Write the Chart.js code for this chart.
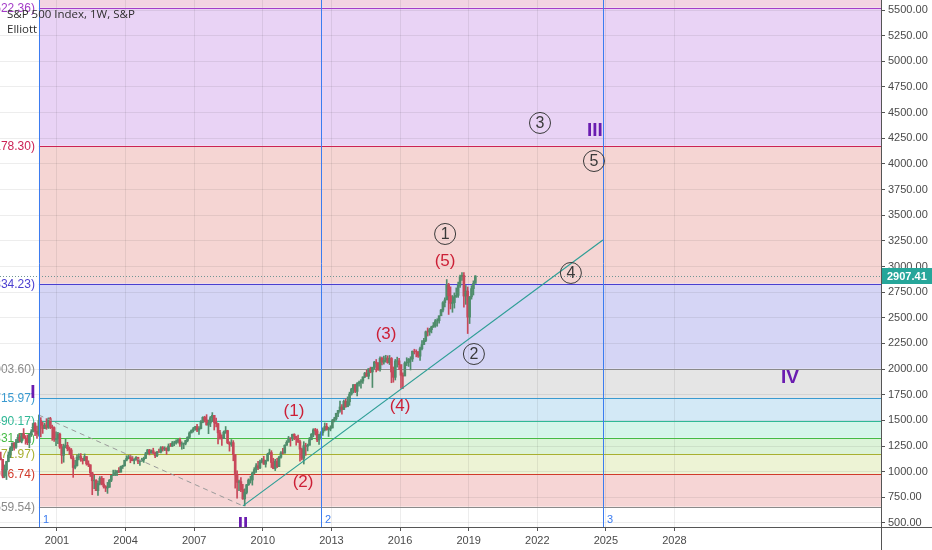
<!DOCTYPE html>
<html>
<head>
<meta charset="utf-8">
<title>S&amp;P 500 Index, 1W, S&amp;P - Elliott</title>
<script src="https://cdn.jsdelivr.net/npm/chart.js@4.4.1/dist/chart.umd.min.js"></script>
<style>
  html, body { margin: 0; padding: 0; background: #fff; }
  #wrap { position: relative; width: 932px; height: 550px; }
  #title { position: absolute; left: 7px; top: 6px; font: 11.5px "Open Sans", sans-serif; color: #2e2e2e; line-height: 15px; pointer-events: none; }
</style>
</head>
<body>
<div id="wrap">
  <canvas id="spxChart" width="932" height="550"></canvas>
  <div id="title">S&amp;P 500 Index, 1W, S&amp;P<br>Elliott</div>
</div>
<script>
// --- Monthly S&P 500 prices, Jul 1998 .. Apr 2019 ---
const startYear = 1998, startMonth = 7;
const firstOpen = 1133.84;

const closes = [
  1120.67, 957.28, 1017.01, 1098.67, 1163.63, 1229.23,
  1279.64, 1238.33, 1286.37, 1335.18, 1301.84, 1372.71, 1328.72, 1320.41, 1282.71, 1362.93, 1388.91, 1469.25,
  1394.46, 1366.42, 1498.58, 1452.43, 1420.60, 1454.60, 1430.83, 1517.68, 1436.51, 1429.40, 1314.95, 1320.28,
  1366.01, 1239.94, 1160.33, 1249.46, 1255.82, 1224.42, 1211.23, 1133.58, 1040.94, 1059.78, 1139.45, 1148.08,
  1130.20, 1106.73, 1147.39, 1076.92, 1067.14, 989.82, 911.62, 916.07, 815.28, 885.76, 936.31, 879.82,
  855.70, 841.15, 848.18, 916.92, 963.59, 974.50, 990.31, 1008.01, 995.97, 1050.71, 1058.20, 1111.92,
  1131.13, 1144.94, 1126.21, 1107.30, 1120.68, 1140.84, 1101.72, 1104.24, 1114.58, 1130.20, 1173.82, 1211.92,
  1181.27, 1203.60, 1180.59, 1156.85, 1191.50, 1191.33, 1234.18, 1220.33, 1228.81, 1207.01, 1249.48, 1248.29,
  1280.08, 1280.66, 1294.83, 1310.61, 1270.09, 1270.20, 1276.66, 1303.82, 1335.85, 1377.94, 1400.63, 1418.30,
  1438.24, 1406.82, 1420.86, 1482.37, 1530.62, 1503.35, 1455.27, 1473.99, 1526.75, 1549.38, 1481.14, 1468.36,
  1378.55, 1330.63, 1322.70, 1385.59, 1400.38, 1280.00, 1267.38, 1282.83, 1166.36, 968.75, 896.24, 903.25,
  825.88, 735.09, 797.87, 872.81, 919.14, 919.32, 987.48, 1020.62, 1057.08, 1036.19, 1095.63, 1115.10,
  1073.87, 1104.49, 1169.43, 1186.69, 1089.41, 1030.71, 1101.60, 1049.33, 1141.20, 1183.26, 1180.55, 1257.64,
  1286.12, 1327.22, 1325.83, 1363.61, 1345.20, 1320.64, 1292.28, 1218.89, 1131.42, 1253.30, 1246.96, 1257.60,
  1312.41, 1365.68, 1408.47, 1397.91, 1310.33, 1362.16, 1379.32, 1406.58, 1440.67, 1412.16, 1416.18, 1426.19,
  1498.11, 1514.68, 1569.19, 1597.57, 1630.74, 1606.28, 1685.73, 1632.97, 1681.55, 1756.54, 1805.81, 1848.36,
  1782.59, 1859.45, 1872.34, 1883.95, 1923.57, 1960.23, 1930.67, 2003.37, 1972.29, 2018.05, 2067.56, 2058.90,
  1994.99, 2104.50, 2067.89, 2085.51, 2107.39, 2063.11, 2103.84, 1972.18, 1920.03, 2079.36, 2080.41, 2043.94,
  1940.24, 1932.23, 2059.74, 2065.30, 2096.95, 2098.86, 2173.60, 2170.95, 2168.27, 2126.15, 2198.81, 2238.83,
  2278.87, 2363.64, 2362.72, 2384.20, 2411.80, 2423.41, 2470.30, 2471.65, 2519.36, 2575.26, 2647.58, 2673.61,
  2823.81, 2713.83, 2640.87, 2648.05, 2705.27, 2718.37, 2816.29, 2901.52, 2913.98, 2711.74, 2760.17, 2506.85,
  2704.10, 2784.49, 2834.40, 2907.41
];

const highs = [
  1190.58, 1121.00, 1066.11, 1102.00, 1192.97, 1244.93,
  1280.00, 1283.00, 1316.00, 1362.00, 1368.00, 1372.90, 1420.33, 1352.00, 1358.00, 1373.00, 1410.00, 1473.00,
  1478.00, 1444.00, 1552.87, 1527.00, 1481.00, 1474.00, 1517.00, 1525.00, 1530.00, 1454.00, 1438.00, 1389.00,
  1383.00, 1376.00, 1267.00, 1269.00, 1315.90, 1286.60, 1239.80, 1226.30, 1155.40, 1110.60, 1163.40, 1173.00,
  1176.60, 1130.20, 1173.00, 1147.80, 1106.60, 1067.70, 994.50, 965.00, 924.00, 907.40, 951.60, 954.30,
  935.00, 864.60, 895.90, 924.20, 965.40, 1015.30, 1015.40, 1011.00, 1040.00, 1053.80, 1063.70, 1112.00,
  1155.40, 1159.00, 1163.20, 1150.60, 1127.70, 1146.30, 1140.80, 1108.60, 1131.50, 1142.00, 1188.50, 1217.30,
  1217.80, 1212.40, 1229.10, 1191.90, 1199.60, 1219.60, 1245.20, 1245.90, 1243.10, 1233.30, 1270.60, 1275.80,
  1294.90, 1297.60, 1310.90, 1318.20, 1326.70, 1290.70, 1280.40, 1306.70, 1340.30, 1389.40, 1407.90, 1431.80,
  1441.60, 1461.60, 1438.90, 1498.00, 1535.60, 1540.60, 1555.90, 1503.90, 1538.70, 1576.10, 1545.80, 1523.60,
  1471.80, 1404.00, 1359.70, 1397.00, 1440.20, 1404.00, 1292.20, 1313.20, 1303.00, 1167.00, 1007.50, 918.90,
  943.85, 877.00, 832.98, 876.60, 930.20, 956.20, 996.70, 1039.50, 1080.20, 1101.40, 1113.70, 1130.40,
  1150.40, 1112.40, 1180.20, 1219.80, 1205.10, 1131.20, 1120.95, 1129.20, 1148.90, 1196.10, 1227.10, 1262.60,
  1302.70, 1344.10, 1332.30, 1366.40, 1370.60, 1346.00, 1356.50, 1307.40, 1230.70, 1292.70, 1277.55, 1269.40,
  1333.50, 1371.90, 1419.20, 1422.40, 1415.30, 1363.50, 1391.70, 1426.70, 1474.50, 1470.96, 1434.30, 1448.00,
  1509.90, 1530.90, 1570.30, 1597.60, 1687.20, 1654.20, 1698.80, 1709.70, 1729.90, 1775.20, 1813.60, 1849.40,
  1850.80, 1867.90, 1883.97, 1897.30, 1924.00, 1968.20, 1991.40, 2005.00, 2019.30, 2018.20, 2075.80, 2093.55,
  2064.40, 2119.60, 2117.50, 2125.90, 2134.70, 2129.90, 2132.80, 2112.70, 2020.90, 2094.30, 2116.50, 2104.30,
  2038.20, 1962.96, 2072.20, 2111.00, 2103.50, 2120.60, 2177.10, 2193.80, 2187.90, 2169.60, 2214.10, 2277.50,
  2301.00, 2371.50, 2400.98, 2398.20, 2418.70, 2454.00, 2484.00, 2491.00, 2519.40, 2582.98, 2657.70, 2694.97,
  2872.87, 2835.96, 2801.90, 2717.50, 2742.20, 2791.50, 2848.00, 2916.50, 2940.90, 2939.90, 2815.15, 2800.20,
  2708.00, 2813.50, 2860.30, 2910.50
];

const lows = [
  1114.30, 939.98, 943.00, 923.32, 1096.00, 1136.89,
  1205.00, 1211.00, 1226.00, 1282.00, 1287.00, 1281.00, 1325.00, 1268.00, 1263.00, 1233.70, 1343.00, 1387.00,
  1350.00, 1325.00, 1346.00, 1339.40, 1373.00, 1420.00, 1413.00, 1421.00, 1419.00, 1305.80, 1294.00, 1254.00,
  1274.00, 1228.00, 1081.00, 1091.99, 1232.00, 1203.00, 1165.50, 1124.90, 944.75, 1026.80, 1054.30, 1114.90,
  1101.00, 1074.40, 1106.70, 1063.50, 1048.96, 952.90, 775.70, 833.40, 815.30, 768.63, 872.00, 871.80,
  840.30, 806.30, 788.90, 847.90, 902.80, 963.60, 962.00, 960.80, 990.40, 995.90, 1031.20, 1053.40,
  1105.10, 1124.40, 1087.20, 1105.90, 1076.30, 1113.30, 1078.80, 1060.70, 1101.30, 1090.20, 1127.60, 1173.80,
  1163.80, 1180.10, 1176.90, 1136.20, 1146.20, 1188.30, 1183.60, 1201.10, 1205.40, 1168.20, 1201.10, 1246.60,
  1245.70, 1253.60, 1268.40, 1280.70, 1245.30, 1219.30, 1224.50, 1261.30, 1290.90, 1327.10, 1377.80, 1385.90,
  1403.97, 1389.40, 1363.98, 1416.40, 1476.70, 1484.20, 1454.30, 1370.60, 1439.30, 1489.60, 1406.10, 1435.70,
  1270.05, 1316.80, 1256.98, 1324.40, 1373.10, 1272.00, 1200.40, 1247.50, 1106.40, 839.80, 741.00, 815.70,
  804.30, 730.90, 666.79, 783.30, 866.10, 888.90, 869.30, 978.50, 991.97, 1019.95, 1029.40, 1085.90,
  1071.60, 1044.50, 1105.40, 1170.70, 1040.80, 1028.30, 1010.90, 1039.70, 1048.10, 1131.90, 1173.00, 1181.30,
  1257.60, 1289.10, 1249.00, 1302.60, 1311.80, 1258.10, 1282.90, 1101.50, 1114.20, 1074.80, 1158.70, 1202.40,
  1258.90, 1310.90, 1340.00, 1357.40, 1291.98, 1266.70, 1325.40, 1354.70, 1396.60, 1403.30, 1343.35, 1398.10,
  1426.20, 1485.00, 1501.50, 1536.00, 1581.30, 1560.30, 1604.60, 1627.50, 1633.40, 1646.50, 1746.20, 1767.99,
  1770.50, 1737.90, 1834.40, 1814.40, 1859.80, 1915.98, 1930.70, 1904.80, 1964.00, 1820.70, 2001.00, 1972.60,
  1988.10, 1980.90, 2039.70, 2048.40, 2067.90, 2056.30, 2044.00, 1867.00, 1871.90, 1893.70, 2019.40, 1993.30,
  1812.30, 1810.10, 1937.10, 2033.80, 2025.90, 1991.70, 2074.00, 2147.60, 2119.10, 2114.70, 2083.80, 2187.40,
  2245.10, 2267.20, 2322.30, 2328.95, 2352.70, 2405.70, 2407.70, 2417.40, 2446.60, 2520.40, 2557.45, 2605.50,
  2682.40, 2532.70, 2585.90, 2553.80, 2594.60, 2698.70, 2698.95, 2795.10, 2864.10, 2603.50, 2631.10, 2346.60,
  2443.96, 2681.80, 2722.30, 2848.60
];

// --- Axes ---
const yearTicks = [2001, 2004, 2007, 2010, 2013, 2016, 2019, 2022, 2025, 2028];
const priceTicks = [500, 750, 1000, 1250, 1500, 1750, 2000, 2250, 2500, 2750, 3000,
  3250, 3500, 3750, 4000, 4250, 4500, 4750, 5000, 5250, 5500];
const xMin = 1998.508, xMax = 2037.03;
const yMin = 461, yMax = 5597.5;

// --- Fibonacci levels ---
const fibStart = 2000.21;
const fibRatios = [0, 0.236, 0.382, 0.5, 0.618, 0.786, 1, 1.618, 2.618, 3.618];
const fibPrices = [659.54, 976.74, 1171.97, 1331.57, 1490.17, 1715.97, 2003.60, 2834.23, 4178.30, 5522.36];
const fibColors = ['#8a8a8a', '#d03a2a', '#a8b030', '#44bb44', '#30b896', '#3a9ad0',
  '#8a8a8a', '#4b3fd0', '#cc2255', '#a43cc8'];
const fibFills = [null, '#f6d5d5', '#edf3d5', '#dcf3d8', '#d5f5ea', '#d3e9f6',
  '#e5e5e5', '#d5d5f5', '#f5d5d3', '#e9d3f5'];
const fibTopFill = '#f2d3e2';

// --- Drawings ---
const cycleYears = [2000.21, 2012.54, 2024.87];
const cycleLabels = ['1', '2', '3'];
const trendX = [2009.13, 2024.87], trendY = [666.79, 3258];
const dashX = [2000.2, 2009.13], dashY = [1552.87, 666.79];
const lastPrice = 2907.41;

const circleLabels = ['1', '2', '3', '4', '5'];
const circleX = [2017.97, 2019.23, 2022.12, 2023.47, 2024.48];
const circleY = [3317, 2147, 4399, 2937, 4028];
const minorLabels = ['(1)', '(2)', '(3)', '(4)', '(5)'];
const minorX = [2011.36, 2011.76, 2015.39, 2016.0, 2017.97];
const minorY = [1592, 900, 2342, 1640, 3054];
const majorLabels = ['I', 'II', 'III', 'IV'];
const majorX = [1999.95, 2009.13, 2024.52, 2033.05];
const majorY = [1767, 480, 4321, 1913];

const FONT = '"Liberation Sans", Arial, sans-serif';
const CYCLE_BLUE = '#3b7cf0';

document.addEventListener('DOMContentLoaded', function() {

    const monthX = closes.map((c, i) => startYear + (startMonth - 1 + i) / 12 + 1 / 24);
    const opens = closes.map((c, i) => i === 0 ? firstOpen : closes[i - 1]);
    const barColors = closes.map((c, i) => c >= opens[i] ? '#4f8d6c' : '#c8485a');

    // --- draws fib bands, levels, cycle lines and wave labels ---
    const overlays = {
        id: 'overlays',
        beforeDraw(chart) {
            const { ctx, chartArea: a, scales: { x, y } } = chart;
            const x0 = x.getPixelForValue(fibStart);
            ctx.save();
            ctx.beginPath();
            ctx.rect(a.left, a.top, a.width, a.height);
            ctx.clip();
            const yTop = y.getPixelForValue(fibPrices[fibPrices.length - 1]);
            ctx.fillStyle = fibTopFill;
            ctx.fillRect(x0, a.top, a.right - x0, yTop - a.top);
            for (let i = 1; i < fibPrices.length; i++) {
                const y1 = y.getPixelForValue(fibPrices[i]);
                const y0 = y.getPixelForValue(fibPrices[i - 1]);
                ctx.fillStyle = fibFills[i];
                ctx.fillRect(x0, y1, a.right - x0, y0 - y1);
            }
            ctx.restore();
        },
        beforeDatasetsDraw(chart) {
            const { ctx, chartArea: a, scales: { x, y } } = chart;
            const x0 = x.getPixelForValue(fibStart);
            ctx.save();
            // level lines + labels
            ctx.font = '12px ' + FONT;
            ctx.textAlign = 'right';
            ctx.textBaseline = 'middle';
            fibPrices.forEach((p, i) => {
                const py = Math.round(y.getPixelForValue(p)) + 0.5;
                ctx.strokeStyle = fibColors[i];
                ctx.lineWidth = 1;
                ctx.beginPath();
                ctx.moveTo(x0, py);
                ctx.lineTo(a.right, py);
                ctx.stroke();
                ctx.fillStyle = fibColors[i];
                ctx.fillText(fibRatios[i] + '(' + p.toFixed(2) + ')', x0 - 4, py);
            });
            // last price dotted line
            const lp = Math.round(y.getPixelForValue(lastPrice)) + 0.5;
            ctx.strokeStyle = '#6f9595';
            ctx.setLineDash([1, 2]);
            ctx.beginPath();
            ctx.moveTo(a.left, lp);
            ctx.lineTo(a.right, lp);
            ctx.stroke();
            ctx.restore();
        },
        afterDatasetsDraw(chart) {
            const { ctx, chartArea: a, scales: { x, y } } = chart;
            ctx.save();
            ctx.beginPath();
            ctx.rect(a.left, a.top, a.width, a.height);
            ctx.clip();

            // cycle vertical lines
            ctx.strokeStyle = CYCLE_BLUE;
            ctx.lineWidth = 1;
            cycleYears.forEach(yr => {
                const px = Math.round(x.getPixelForValue(yr)) + 0.5;
                ctx.beginPath();
                ctx.moveTo(px, a.top);
                ctx.lineTo(px, a.bottom);
                ctx.stroke();
            });

            ctx.textAlign = 'center';
            ctx.textBaseline = 'middle';

            // circled waves
            circleLabels.forEach((t, i) => {
                const px = x.getPixelForValue(circleX[i]);
                const py = y.getPixelForValue(circleY[i]);
                ctx.strokeStyle = '#3a3a3a';
                ctx.lineWidth = 1;
                ctx.beginPath();
                ctx.arc(px, py, 10.5, 0, Math.PI * 2);
                ctx.stroke();
                ctx.fillStyle = '#3a3a3a';
                ctx.font = '16px ' + FONT;
                ctx.fillText(t, px, py + 1);
            });
            // minor waves
            ctx.fillStyle = '#cc1f36';
            ctx.font = '17px ' + FONT;
            minorLabels.forEach((t, i) => {
                ctx.fillText(t, x.getPixelForValue(minorX[i]), y.getPixelForValue(minorY[i]));
            });
            // major waves
            ctx.fillStyle = '#6a1cb0';
            ctx.font = 'bold 19px ' + FONT;
            majorLabels.forEach((t, i) => {
                ctx.fillText(t, x.getPixelForValue(majorX[i]), y.getPixelForValue(majorY[i]));
            });
            // cycle numbers
            ctx.fillStyle = CYCLE_BLUE;
            ctx.font = '11px ' + FONT;
            ctx.textAlign = 'left';
            cycleYears.forEach((yr, i) => {
                ctx.fillText(cycleLabels[i], x.getPixelForValue(yr) + 4, a.bottom - 7);
            });
            ctx.restore();
        },
        afterDraw(chart) {
            const { ctx, chartArea: a, scales: { y } } = chart;
            ctx.save();
            // axis frame lines
            ctx.strokeStyle = '#555';
            ctx.lineWidth = 1;
            ctx.beginPath();
            ctx.moveTo(a.right + 0.5, a.top);
            ctx.lineTo(a.right + 0.5, chart.height);
            ctx.moveTo(a.left, a.bottom + 0.5);
            ctx.lineTo(chart.width, a.bottom + 0.5);
            ctx.stroke();
            // last price tag
            const lp = y.getPixelForValue(lastPrice);
            ctx.fillStyle = '#26a69a';
            ctx.fillRect(a.right + 1, lp - 8, chart.width - a.right - 1, 16);
            ctx.fillStyle = '#ffffff';
            ctx.font = 'bold 11px ' + FONT;
            ctx.textAlign = 'left';
            ctx.textBaseline = 'middle';
            ctx.fillText(lastPrice.toFixed(2), a.right + 6, lp + 0.5);
            ctx.restore();
        }
    };

    const ctx = document.getElementById('spxChart').getContext('2d');
    new Chart(ctx, {
        type: 'bar',
        data: {
            datasets: [
                {
                    label: 'Range',
                    data: monthX.map((mx, i) => ({ x: mx, y: [lows[i], highs[i]] })),
                    backgroundColor: barColors,
                    barThickness: 1,
                    grouped: false,
                    order: 3
                },
                {
                    label: 'Body',
                    data: monthX.map((mx, i) => ({ x: mx, y: [opens[i], closes[i]] })),
                    backgroundColor: barColors,
                    barThickness: 2,
                    grouped: false,
                    order: 2
                },
                {
                    type: 'line',
                    label: 'Trend',
                    data: trendX.map((tx, i) => ({ x: tx, y: trendY[i] })),
                    borderColor: '#2e9e96',
                    borderWidth: 1.2,
                    pointRadius: 0,
                    order: 1
                },
                {
                    type: 'line',
                    label: 'Projection',
                    data: dashX.map((dx, i) => ({ x: dx, y: dashY[i] })),
                    borderColor: '#9a9a9a',
                    borderWidth: 1,
                    borderDash: [5, 4],
                    pointRadius: 0,
                    order: 1
                }
            ]
        },
        options: {
            responsive: false,
            animation: false,
            layout: { padding: 0 },
            plugins: { legend: { display: false }, tooltip: { enabled: false } },
            scales: {
                x: {
                    type: 'linear',
                    min: xMin,
                    max: xMax,
                    offset: false,
                    grid: { offset: false, color: 'rgba(0,0,0,0.07)', tickLength: 4, tickColor: '#555' },
                    border: { display: false },
                    ticks: {
                        color: '#4a4a4a', font: { size: 11, family: FONT }, padding: 3,
                        maxRotation: 0, autoSkip: false, callback: v => String(v)
                    },
                    afterBuildTicks: s => { s.ticks = yearTicks.map(v => ({ value: v })); },
                    afterFit: s => { s.height = 23; s.paddingLeft = 0; s.paddingRight = 0; }
                },
                y: {
                    type: 'linear',
                    position: 'right',
                    min: yMin,
                    max: yMax,
                    grid: { color: 'rgba(0,0,0,0.07)', tickLength: 4, tickColor: '#555' },
                    border: { display: false },
                    ticks: {
                        color: '#4a4a4a', font: { size: 11, family: FONT }, padding: 3,
                        autoSkip: false, callback: v => v.toFixed(2)
                    },
                    afterBuildTicks: s => { s.ticks = priceTicks.map(v => ({ value: v })); },
                    afterFit: s => { s.width = 51; s.paddingTop = 0; s.paddingBottom = 0; }
                }
            }
        },
        plugins: [overlays]
    });
});
</script>
</body>
</html>
